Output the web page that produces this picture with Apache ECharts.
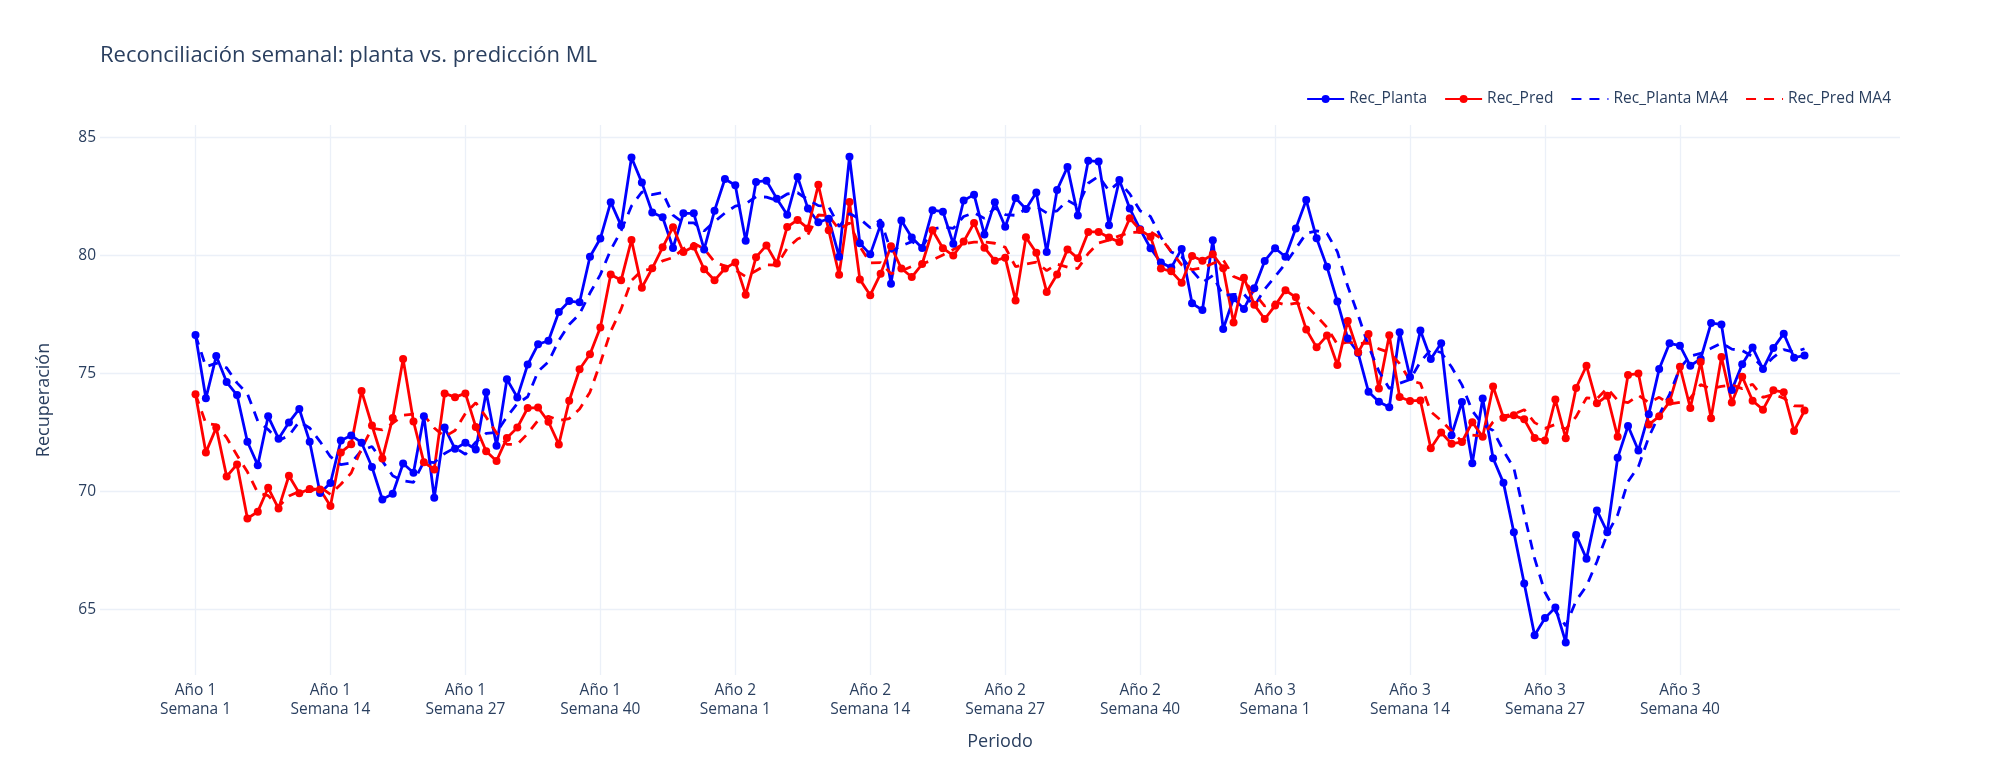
<!DOCTYPE html>
<html lang="es">
  <head>
    <meta charset="UTF-8" />
    <title>Reconciliación semanal</title>
    <script src="https://cdn.jsdelivr.net/npm/echarts@6.0.0/dist/echarts.min.js"></script>
    <style>
      html, body { margin: 0; padding: 0; background: #fff; }
    </style>
  </head>
  <body>
    <div id="main" style="width: 2000px; height: 775px"></div>
    <script type="text/javascript">
      // Weekly recovery values (3 years x 52 weeks)
      const recPlanta = [
        76.62, 73.94, 75.73, 74.63, 74.08, 72.10, 71.11, 73.18, 72.23, 72.92,
        73.49, 72.10, 69.93, 70.35, 72.15, 72.37, 72.06, 71.03, 69.66, 69.90,
        71.18, 70.79, 73.18, 69.73, 72.70, 71.80, 72.06, 71.77, 74.20, 71.93,
        74.75, 73.98, 75.37, 76.23, 76.38, 77.60, 78.06, 78.01, 79.94, 80.71,
        82.25, 81.26, 84.14, 83.08, 81.81, 81.61, 80.31, 81.78, 81.78, 80.25,
        81.89, 83.23, 82.97, 80.62, 83.11, 83.16, 82.40, 81.72, 83.32, 81.98,
        81.40, 81.55, 79.94, 84.18, 80.51, 80.04, 81.30, 78.80, 81.47, 80.75,
        80.31, 81.91, 81.85, 80.49, 82.32, 82.57, 80.88, 82.25, 81.21, 82.43,
        81.96, 82.66, 80.14, 82.77, 83.74, 81.69, 84.01, 83.97, 81.27, 83.19,
        81.98, 81.10, 80.30, 79.69, 79.48, 80.27, 77.97, 77.68, 80.64, 76.88,
        78.18, 77.73, 78.60, 79.76, 80.30, 79.94, 81.14, 82.34, 80.72, 79.51,
        78.04, 76.48, 75.86, 74.22, 73.80, 73.56, 76.74, 74.84, 76.81, 75.61,
        76.27, 72.38, 73.79, 71.19, 73.93, 71.40, 70.36, 68.27, 66.10, 63.90,
        64.63, 65.08, 63.60, 68.15, 67.14, 69.19, 68.27, 71.42, 72.77, 71.73,
        73.27, 75.18, 76.27, 76.17, 75.32, 75.61, 77.13, 77.07, 74.29, 75.38,
        76.09, 75.18, 76.07, 76.68, 75.66, 75.76
      ];
      const recPred = [
        74.11, 71.65, 72.70, 70.63, 71.14, 68.85, 69.14, 70.15, 69.27, 70.66,
        69.92, 70.10, 70.08, 69.38, 71.65, 72.00, 74.25, 72.79, 71.39, 73.11,
        75.61, 72.96, 71.23, 70.93, 74.15, 73.99, 74.15, 72.73, 71.70, 71.29,
        72.26, 72.70, 73.53, 73.55, 72.95, 71.99, 73.84, 75.17, 75.81, 76.94,
        79.19, 78.94, 80.65, 78.63, 79.45, 80.34, 81.19, 80.14, 80.37, 79.41,
        78.94, 79.44, 79.70, 78.33, 79.92, 80.42, 79.65, 81.20, 81.50, 81.14,
        82.99, 81.06, 79.18, 82.26, 78.98, 78.31, 79.22, 80.38, 79.44, 79.08,
        79.63, 81.06, 80.30, 79.99, 80.58, 81.37, 80.32, 79.77, 79.90, 78.08,
        80.76, 80.11, 78.45, 79.19, 80.25, 79.87, 80.99, 80.99, 80.75, 80.56,
        81.57, 81.07, 80.79, 79.44, 79.32, 78.84, 79.97, 79.77, 80.04, 79.45,
        77.15, 79.05, 77.90, 77.30, 77.87, 78.52, 78.22, 76.86, 76.10, 76.60,
        75.35, 77.22, 75.89, 76.67, 74.36, 76.61, 74.00, 73.83, 73.85, 71.83,
        72.49, 72.02, 72.09, 72.93, 72.31, 74.44, 73.12, 73.22, 73.05, 72.26,
        72.15, 73.89, 72.25, 74.38, 75.32, 73.73, 74.05, 72.31, 74.93, 74.99,
        72.83, 73.18, 73.80, 75.28, 73.53, 75.48, 73.10, 75.69, 73.76, 74.86,
        73.84, 73.46, 74.28, 74.20, 72.56, 73.42
      ];

      // x-axis tick positions (week index) and their labels
      const xTickPositions = [0, 13, 26, 39, 52, 65, 78, 91, 104, 117, 130, 143];
      const xTickLabels = [
        "Año 1\nSemana 1", "Año 1\nSemana 14", "Año 1\nSemana 27", "Año 1\nSemana 40",
        "Año 2\nSemana 1", "Año 2\nSemana 14", "Año 2\nSemana 27", "Año 2\nSemana 40",
        "Año 3\nSemana 1", "Año 3\nSemana 14", "Año 3\nSemana 27", "Año 3\nSemana 40"
      ];
      const yTickValues = [65, 70, 75, 80, 85];

      // trailing 4-week moving average (shorter window at the start)
      function movingAvg(arr, w) {
        return arr.map((_, i) => {
          const part = arr.slice(Math.max(0, i - w + 1), i + 1);
          return part.reduce((s, v) => s + v, 0) / part.length;
        });
      }
      const toPoints = (arr) => arr.map((v, i) => [i, v]);

      const textColor = "#2a3f5f";
      const gridColor = "#ebf0f8";
      const font = "'Open Sans', verdana, arial, sans-serif";

      let myChart = echarts.init(document.getElementById("main"));

      let options = {
        animation: false,
        textStyle: { fontFamily: font },
        title: {
          text: "Reconciliación semanal: planta vs. predicción ML",
          left: 95,
          top: 40,
          textStyle: { fontSize: 22, fontWeight: "normal", color: textColor, fontFamily: font }
        },
        legend: {
          right: 104,
          top: 86,
          itemWidth: 37,
          itemHeight: 10,
          itemGap: 17,
          textStyle: { fontSize: 15.5, color: textColor, fontFamily: font },
          data: [
            { name: "Rec_Planta" },
            { name: "Rec_Pred" },
            // dashed traces: line only, no marker in the legend key
            { name: "Rec_Planta MA4", itemStyle: { opacity: 0 } },
            { name: "Rec_Pred MA4", itemStyle: { opacity: 0 } }
          ]
        },
        grid: { left: 100, right: 100, top: 125, bottom: 100, containLabel: false },
        xAxis: {
          type: "value",
          min: -9.2,
          max: 164.2,
          name: "Periodo",
          nameLocation: "middle",
          nameGap: 58,
          nameTextStyle: { fontSize: 18, color: textColor },
          axisLine: { show: false },
          axisTick: { show: false, customValues: xTickPositions },
          splitLine: { show: true, lineStyle: { color: gridColor, width: 1.3 } },
          axisLabel: {
            customValues: xTickPositions,
            formatter: (v) => xTickLabels[xTickPositions.indexOf(v)],
            color: textColor,
            fontSize: 15.5,
            lineHeight: 19,
            margin: 6
          }
        },
        yAxis: {
          type: "value",
          min: 62.22,
          max: 85.52,
          name: "Recuperación",
          nameLocation: "middle",
          nameGap: 47,
          nameTextStyle: { fontSize: 18, color: textColor },
          axisLine: { show: false },
          axisTick: { show: false, customValues: yTickValues },
          splitLine: { show: true, lineStyle: { color: gridColor, width: 1.3 } },
          axisLabel: {
            customValues: yTickValues,
            color: textColor,
            fontSize: 15.5,
            margin: 4
          }
        },
        series: [
          {
            name: "Rec_Planta",
            type: "line",
            data: toPoints(recPlanta),
            color: "#0000ff",
            symbol: "circle",
            symbolSize: 8,
            showAllSymbol: true,
            lineStyle: { width: 2.8 }
          },
          {
            name: "Rec_Pred",
            type: "line",
            data: toPoints(recPred),
            color: "#ff0000",
            symbol: "circle",
            symbolSize: 8,
            showAllSymbol: true,
            lineStyle: { width: 2.8 }
          },
          {
            name: "Rec_Planta MA4",
            type: "line",
            data: toPoints(movingAvg(recPlanta, 4)),
            color: "#0000ff",
            showSymbol: false,
            symbol: "none",
            lineStyle: { width: 2.8, type: [10, 8] }
          },
          {
            name: "Rec_Pred MA4",
            type: "line",
            data: toPoints(movingAvg(recPred, 4)),
            color: "#ff0000",
            showSymbol: false,
            symbol: "none",
            lineStyle: { width: 2.8, type: [10, 8] }
          }
        ]
      };

      myChart.setOption(options);
    </script>
  </body>
</html>
